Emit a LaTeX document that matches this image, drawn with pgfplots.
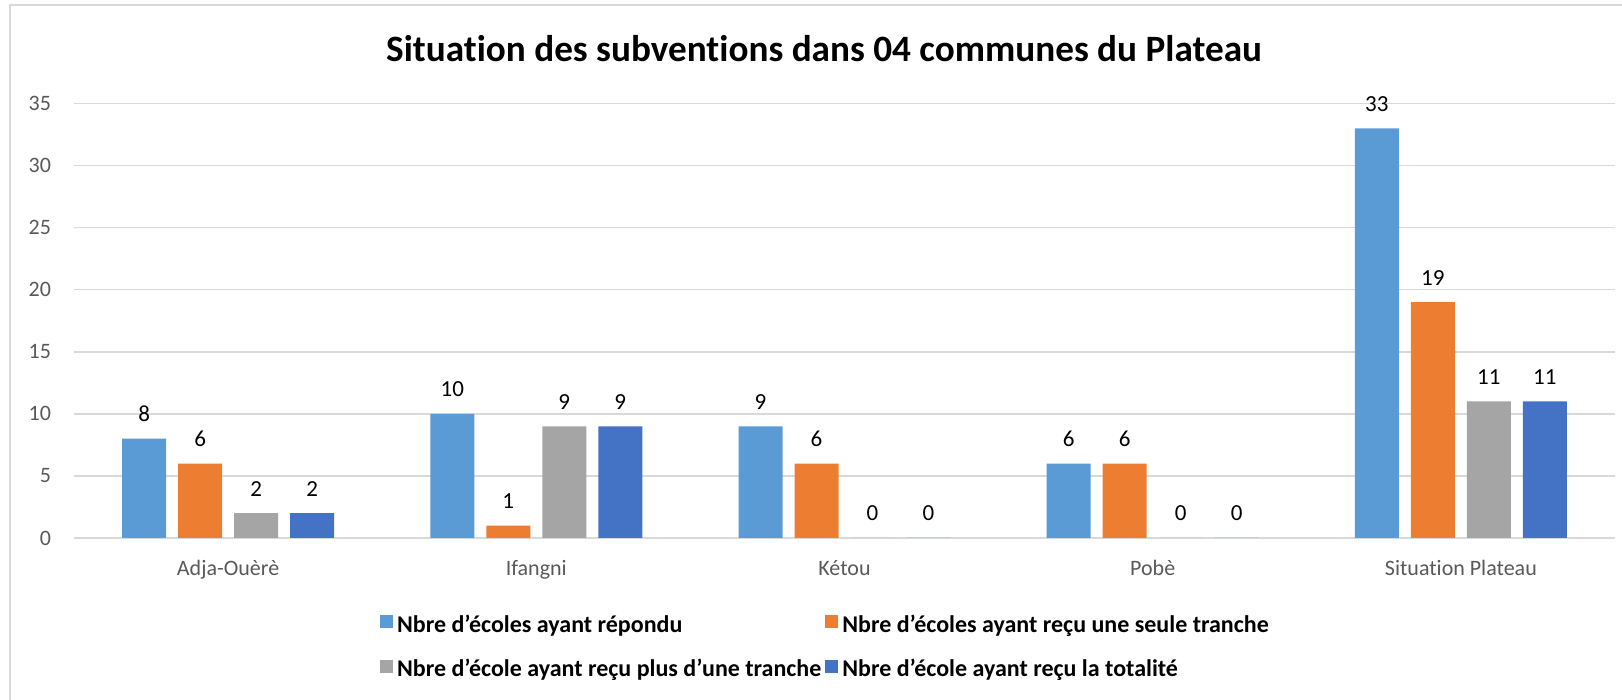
\documentclass[border=0pt]{standalone}
\usepackage{fontspec}
\setmainfont{Carlito}[RawFeature=-liga]
\usepackage{pgfplots}
\pgfplotsset{compat=1.18}
\definecolor{sA}{HTML}{5B9BD5}
\definecolor{sB}{HTML}{ED7D31}
\definecolor{sC}{HTML}{A5A5A5}
\definecolor{sD}{HTML}{4472C4}
\definecolor{gridc}{HTML}{D9D9D9}
\definecolor{tickc}{HTML}{595959}
\begin{document}
\begin{tikzpicture}
\path[use as bounding box] (0,0) rectangle (811pt,350pt);
\draw[gridc, line width=0.75pt] (5pt,0) -- (5pt,347.5pt) -- (811pt,347.5pt);
\node[anchor=base, font=\bfseries\fontsize{18.6}{22}\selectfont] at (412pt,319pt)
  {Situation des subventions dans 04 communes du Plateau};
\begin{axis}[
  at={(37pt,81pt)}, anchor=south west,
  scale only axis, width=770.5pt, height=217.25pt,
  xmin=-0.5, xmax=4.5, ymin=0, ymax=35,
  ytick={0,5,...,35},
  xtick={0,1,2,3,4},
  xticklabels={Adja-Ouèrè, Ifangni, Kétou, Pobè, Situation Plateau},
  axis line style={draw=none},
  major tick length=0pt,
  ymajorgrids, grid style={gridc, line width=0.75pt},
  /pgf/number format/assume math mode=true,
  tick label style={font=\fontsize{11}{13}\selectfont, text=tickc},
  yticklabel style={xshift=-8pt},
  xticklabel style={yshift=-7.5pt},
  ybar, bar width=22pt,
  nodes near coords,
  every node near coord/.append style={font=\fontsize{11.5}{13}\selectfont, text=black, anchor=base, yshift=8.5pt},
  legend columns=2,
  legend cell align=left,
  legend style={draw=none, fill=none, at={(0.1945,-0.158)}, anchor=north west,
    font=\bfseries\fontsize{12}{14}\selectfont,
    /tikz/every even column/.append style={column sep=0pt},
    row sep=8pt},
  legend image code/.code={\fill[#1] (0pt,-1.5pt) rectangle (6.5pt,5pt);},
]
\addplot[fill=sA, draw=none, bar shift=-42pt] coordinates {(0,8) (1,10) (2,9) (3,6) (4,33)};
\addplot[fill=sB, draw=none, bar shift=-14pt] coordinates {(0,6) (1,1) (2,6) (3,6) (4,19)};
\addplot[fill=sC, draw=none, bar shift=14pt] coordinates {(0,2) (1,9) (2,0) (3,0) (4,11)};
\addplot[fill=sD, draw=none, bar shift=42pt] coordinates {(0,2) (1,9) (2,0) (3,0) (4,11)};
\legend{Nbre d’écoles ayant répondu, Nbre d’écoles ayant reçu une seule tranche,
  Nbre d’école ayant reçu plus d’une tranche, Nbre d’école ayant reçu la totalité}
\end{axis}
\end{tikzpicture}
\end{document}
